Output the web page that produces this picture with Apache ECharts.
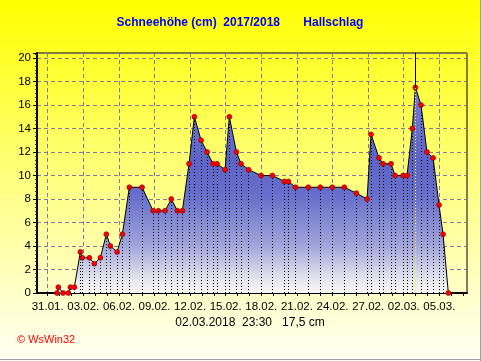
<!DOCTYPE html>
<html><head><meta charset="utf-8">
<script src="https://cdn.jsdelivr.net/npm/echarts@6/dist/echarts.min.js"></script>
<style>html,body{margin:0;padding:0;background:#fff}#c{width:481px;height:361px}</style>
</head><body><div id="c"></div>
<script>
// ---- data ----
const times = [
 '2018-01-31 19:00','2018-01-31 21:40','2018-02-01 07:10','2018-02-01 17:50','2018-02-01 22:00',
 '2018-02-02 06:00','2018-02-02 18:00','2018-02-02 22:00','2018-02-03 12:20','2018-02-03 22:20',
 '2018-02-04 10:30','2018-02-04 22:40','2018-02-05 06:50','2018-02-05 20:20','2018-02-06 07:00',
 '2018-02-06 21:10','2018-02-07 22:50','2018-02-08 21:10','2018-02-09 07:50',
 '2018-02-09 21:20','2018-02-10 10:00','2018-02-10 22:20','2018-02-11 08:20','2018-02-11 21:50',
 '2018-02-12 08:40','2018-02-12 22:10','2018-02-13 10:20','2018-02-13 22:20','2018-02-14 06:30',
 '2018-02-14 22:40','2018-02-15 07:20','2018-02-15 21:40','2018-02-16 07:00','2018-02-16 22:20',
 '2018-02-17 23:30','2018-02-18 22:20','2018-02-19 22:30','2018-02-20 06:40','2018-02-20 21:20',
 '2018-02-21 23:00','2018-02-22 23:20','2018-02-23 23:30','2018-02-24 23:50','2018-02-26 00:10',
 '2018-02-26 21:50','2018-02-27 05:50','2018-02-27 22:00','2018-02-28 06:10','2018-02-28 22:20',
 '2018-03-01 06:30','2018-03-01 22:40','2018-03-02 06:40','2018-03-02 17:20','2018-03-02 23:30',
 '2018-03-03 11:00','2018-03-03 23:00','2018-03-04 11:20','2018-03-04 23:20','2018-03-05 07:30',
 '2018-03-05 18:10'
];
const depth = [
 0,0.5,0,0,0.5,
 0.5,3.5,3,3,2.5,
 3,5,4,3.5,5,
 9,9,7,7,
 7,8,7,7,11,
 15,13,12,11,11,
 10.5,15,12,11,10.5,
 10,10,9.5,9.5,9,
 9,9,9,9,8.5,
 8,13.5,11.5,11,11,
 10,10,10,14,17.5,
 16,12,11.5,7.5,5,
 0
];
const xLabelDates = ['2018-01-31','2018-02-03','2018-02-06','2018-02-09','2018-02-12','2018-02-15',
 '2018-02-18','2018-02-21','2018-02-24','2018-02-27','2018-03-02','2018-03-05'];
const yTicks = [0,2,4,6,8,10,12,14,16,18,20];
const axisStart = '2018-01-30 02:25';
const axisEnd = '2018-03-07 07:55';
const cursorTime = '2018-03-02 23:30';
const cursorValue = 17.5;
const titleText = 'Schneeh\u00f6he (cm)  2017/2018       Hallschlag';
const captionText = '02.03.2018  23:30   17,5 cm';
const creditText = '\u00a9 WsWin32';

// ---- helpers ----
const BASE = Date.UTC(2018,0,31);
function toDay(s){
  const p = s.split(' ');
  const d = p[0].split('-').map(Number);
  const t = (p[1]||'00:00').split(':').map(Number);
  return (Date.UTC(d[0],d[1]-1,d[2],t[0],t[1]) - BASE)/86400000;
}
function fmtDay(v){
  const dt = new Date(BASE + Math.round(v*24)*3600000);
  const dd = String(dt.getUTCDate()).padStart(2,'0');
  const mm = String(dt.getUTCMonth()+1).padStart(2,'0');
  return dd + '.' + mm + '.';
}
const xMin = toDay(axisStart), xMax = toDay(axisEnd);
const yMax = 20.43;
const pts = times.map((t,i)=>[toDay(t), depth[i]]);
const labelDays = xLabelDates.map(toDay);
const dayTicks = [];
for (let d = Math.ceil(xMin); d <= Math.floor(xMax); d++) dayTicks.push(d);
const cx = toDay(cursorTime);

const dropLines = pts.filter(p=>Math.abs(p[0]-cx)>1e-6).map(p=>[{coord:[p[0],0]},{coord:[p[0],p[1]]}]);

const font = 'Liberation Sans, Arial, sans-serif';
const chart = echarts.init(document.getElementById('c'), null, {renderer:'canvas'});
chart.setOption({
  animation:false,
  graphic:[
    {type:'rect', z:-100, silent:true, shape:{x:0,y:0,width:481,height:361},
     style:{fill:new echarts.graphic.LinearGradient(0,0,0,1,[
       {offset:0,color:'#ffff00'},{offset:0.5,color:'#ffff80'},{offset:1,color:'#fffff4'}])}},
    {type:'line', z:100, silent:true, shape:{x1:480.5,y1:0,x2:480.5,y2:361}, style:{stroke:'#a0a0a0',lineWidth:1}},
    {type:'line', z:100, silent:true, shape:{x1:0,y1:359.5,x2:481,y2:359.5}, style:{stroke:'#a0a0a0',lineWidth:1}},
    {type:'text', z:100, silent:true, x:240, y:23, style:{text:titleText, font:'bold 12px '+font, fill:'#0000ff', align:'center', verticalAlign:'middle'}},
    {type:'text', z:100, silent:true, x:250, y:322.5, style:{text:captionText, font:'12px '+font, fill:'#000', align:'center', verticalAlign:'middle'}},
    {type:'text', z:100, silent:true, x:17, y:339.5, style:{text:creditText, font:'11px '+font, fill:'#ff0000', align:'left', verticalAlign:'middle'}}
  ],
  grid:{left:37, right:14, top:53, bottom:68, show:true, borderColor:'#000', borderWidth:1, backgroundColor:'transparent', containLabel:false},
  xAxis:[
    {type:'value', min:xMin, max:xMax, position:'bottom',
     axisLine:{show:true, onZero:false, lineStyle:{color:'#000', width:2}},
     axisTick:{show:true, customValues:dayTicks, length:3, lineStyle:{color:'#000'}},
     axisLabel:{show:false}, splitLine:{show:false}},
    {type:'value', min:xMin, max:xMax, position:'bottom',
     axisLine:{show:false, onZero:false},
     axisTick:{show:false, customValues:labelDays},
     axisLabel:{show:true, customValues:labelDays, formatter:fmtDay, margin:8, color:'#000', fontFamily:font, fontSize:11.5},
     splitLine:{show:true, lineStyle:{color:'#7c7ca0', width:1, type:[4,3]}}}
  ],
  yAxis:{type:'value', min:0, max:yMax, interval:2,
    axisLine:{show:true, onZero:false, lineStyle:{color:'#000', width:2}},
    axisTick:{show:true, length:4, lineStyle:{color:'#000'}},
    minorTick:{show:true, splitNumber:6, length:2, lineStyle:{color:'#333'}},
    axisLabel:{color:'#000', fontFamily:font, fontSize:11.5, margin:6,
      formatter:v=> yTicks.indexOf(v)>=0 ? String(v) : ''},
    splitLine:{show:true, lineStyle:{color:'#7c7ca0', width:1, type:[4,3]}}},
  series:[{
    type:'line', xAxisIndex:0, data:pts, symbol:'circle', symbolSize:5, showAllSymbol:true,
    lineStyle:{color:'#000', width:1},
    itemStyle:{color:'#ff0000', borderColor:'#800000', borderWidth:0.6},
    areaStyle:{opacity:1, color:new echarts.graphic.LinearGradient(0,53,0,293,[
      {offset:0,color:'#8088d8'},{offset:0.45,color:'#5c64c8'},{offset:0.6,color:'#6870cc'},
      {offset:0.8,color:'#a0a4da'},{offset:0.95,color:'#e8e8ee'},{offset:1,color:'#f8f8f4'}], true)},
    markLine:{silent:true, symbol:['none','none'], label:{show:false},
      data: dropLines,
      lineStyle:{color:'#000', width:1, type:[1,2]}}, z:3
  },{
    type:'line', xAxisIndex:0, data:[],
    markLine:{silent:true, symbol:['none','none'], label:{show:false},
      data:[
        [{coord:[cx,cursorValue], lineStyle:{color:'#000',type:'solid',width:1}},{coord:[cx,yMax]}],
        [{coord:[cx,0], lineStyle:{color:'#ffff00',type:[1,2],width:1}},{coord:[cx,cursorValue]}]
      ]}, z:4
  }]
});
</script></body></html>
